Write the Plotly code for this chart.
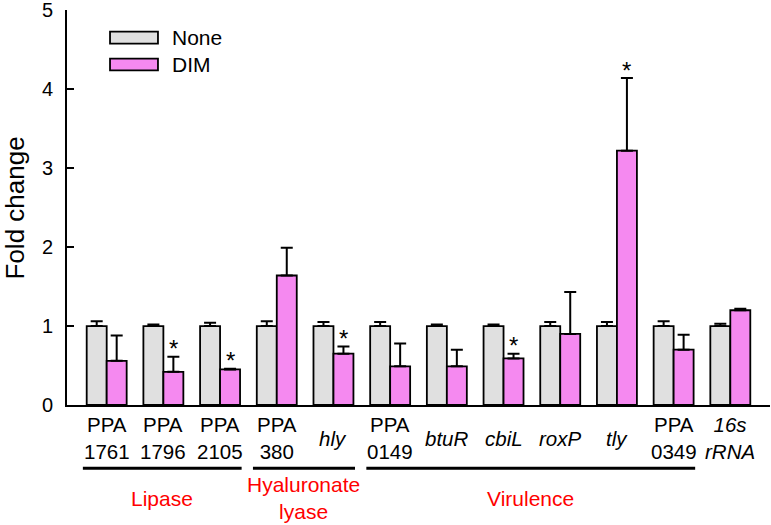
import plotly.graph_objects as go

# genes on the x axis
genes = ["PPA<br>1761", "PPA<br>1796", "PPA<br>2105", "PPA<br>380", "<i>hly</i>",
         "PPA<br>0149", "<i>btuR</i>", "<i>cbiL</i>", "<i>roxP</i>", "<i>tly</i>",
         "PPA<br>0349", "<i>16s<br>rRNA</i>"]

none_vals = [1.00, 1.00, 1.00, 1.00, 1.00, 1.00, 1.00, 1.00, 1.00, 1.00, 1.00, 1.00]
none_err = [0.06, 0.02, 0.04, 0.06, 0.05, 0.05, 0.02, 0.02, 0.05, 0.05, 0.06, 0.03]
dim_vals = [0.56, 0.42, 0.45, 1.64, 0.65, 0.49, 0.49, 0.59, 0.90, 3.22, 0.70, 1.20]
dim_err = [0.32, 0.19, 0.01, 0.35, 0.09, 0.29, 0.21, 0.06, 0.53, 0.92, 0.19, 0.02]
significant = [False, True, True, False, True, False, False, True, False, True, False, False]

group_names = ["Lipase", "Hyaluronate<br>lyase", "Virulence"]
group_first = [0, 3, 5]
group_last = [2, 4, 10]

FONT = "Liberation Sans, Arial, sans-serif"
GRAY = "#E0E0E0"
PINK = "#F589F0"

x = list(range(len(genes)))

fig = go.Figure()
fig.add_trace(go.Bar(x=x, y=none_vals, name="None", marker_color=GRAY,
                     marker_line=dict(color="black", width=1.8),
                     error_y=dict(type="data", array=none_err, arrayminus=[0] * len(x),
                                  symmetric=False, color="black", thickness=2, width=6)))
fig.add_trace(go.Bar(x=x, y=dim_vals, name="DIM", marker_color=PINK,
                     marker_line=dict(color="black", width=1.8),
                     error_y=dict(type="data", array=dim_err, arrayminus=[0] * len(x),
                                  symmetric=False, color="black", thickness=2, width=6)))

# significance stars over the DIM bars
for i, s in enumerate(significant):
    if s:
        fig.add_annotation(x=i, y=dim_vals[i] + dim_err[i], text="*", showarrow=False,
                           xshift=10, yshift=8, yanchor="middle",
                           font=dict(family=FONT, size=24, color="black"))

# category labels under the axis
for i, g in enumerate(genes):
    fig.add_annotation(x=i, y=-0.084, xref="x", yref="paper", text=g, showarrow=False,
                       yanchor="middle", font=dict(family=FONT, size=20.5, color="black"))

# group brackets and red labels
for name, a, b in zip(group_names, group_first, group_last):
    x0, x1 = a - 0.42, b + 0.38
    fig.add_shape(type="line", xref="x", yref="paper", x0=x0, x1=x1, y0=-0.16, y1=-0.16,
                  line=dict(color="black", width=3))
    fig.add_annotation(x=(x0 + x1) / 2, y=-0.236, xref="x", yref="paper", text=name,
                       showarrow=False, yanchor="middle",
                       font=dict(family=FONT, size=21, color="#FF0000"))

# hand-drawn legend with wide swatches
for label, color, y0, y1 in [("None", GRAY, 0.915, 0.9455), ("DIM", PINK, 0.8474, 0.877)]:
    fig.add_shape(type="rect", xref="paper", yref="paper", x0=0.0612, x1=0.1294, y0=y0, y1=y1,
                  fillcolor=color, line=dict(color="black", width=1.8))
    fig.add_annotation(x=0.1465, y=(y0 + y1) / 2, xref="paper", yref="paper", text=label,
                       showarrow=False, xanchor="left", yanchor="middle",
                       font=dict(family=FONT, size=21, color="black"))

fig.add_annotation(x=-0.074, y=0.5, xref="paper", yref="paper", text="Fold change",
                   textangle=-90, showarrow=False, xanchor="center", yanchor="middle",
                   font=dict(family=FONT, size=26, color="black"))

fig.update_layout(
    width=771, height=525,
    margin=dict(l=67, r=1, t=10, b=120),
    plot_bgcolor="white", paper_bgcolor="white",
    barmode="group", bargap=0.295, bargroupgap=0,
    showlegend=False,
    font=dict(family=FONT, size=20, color="black"),
    xaxis=dict(range=[-0.7, 11.7], showline=True, linecolor="black", linewidth=2,
               showticklabels=False, ticks="", showgrid=False, zeroline=False),
    yaxis=dict(range=[0, 5.002], tickvals=[0, 1, 2, 3, 4, 5], ticks="inside", ticklen=7,
               tickwidth=2, tickcolor="black", showline=True, linecolor="black",
               linewidth=2, showgrid=False, zeroline=False, ticklabelstandoff=8,
               ticklabeloverflow="allow", automargin=False,
               tickfont=dict(family=FONT, size=20)),
)

fig.write_html("out.html", config={"displayModeBar": False},
               post_script="document.body.style.margin='0';")
